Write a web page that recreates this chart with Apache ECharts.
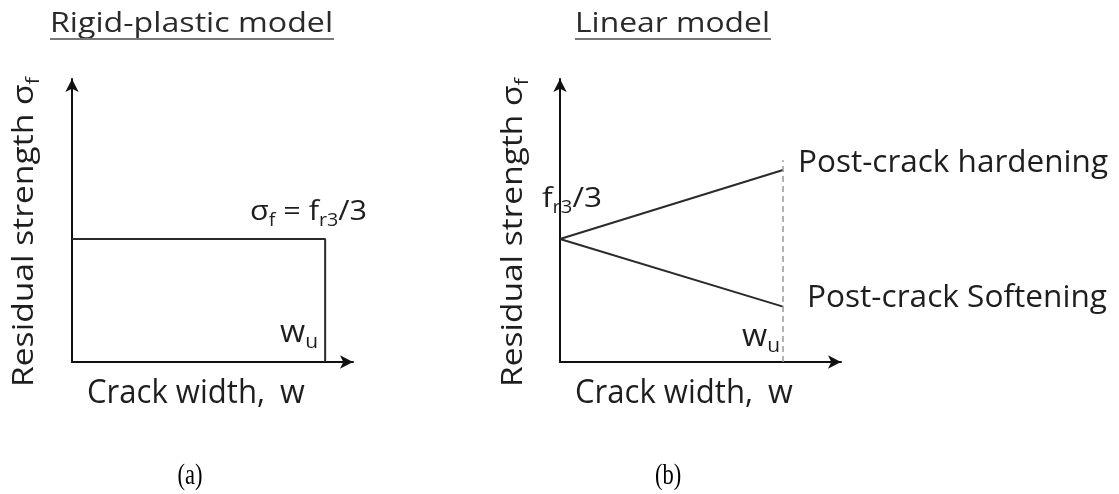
<!DOCTYPE html>
<html>
<head>
<meta charset="utf-8">
<script src="https://cdn.jsdelivr.net/npm/echarts@6/dist/echarts.min.js"></script>
<style>
  html, body { margin: 0; padding: 0; background: #fff; }
  #chart { width: 1119px; height: 494px; }
</style>
</head>
<body>
<div id="chart"></div>
<script>
// Crack width w, normalised by the ultimate crack width w_u
const wu = 1;
// Residual strength, normalised by f_r3/3
const fr3Third = 1;

// (a) Rigid-plastic model: constant stress up to w_u, then drop to zero
const rigidW = [0, wu, wu];
const rigidS = [fr3Third, fr3Third, 0];

// (b) Linear model: linear branch from f_r3/3 at w = 0 to w = w_u
const linearW = [0, wu];
const hardeningS = [fr3Third, 1.56];
const softeningS = [fr3Third, 0.45];

// Dashed limit at w = w_u
const limitW = [wu, wu];
const limitS = [0, 1.64];

// Panel texts
const panelTitles = ['Rigid-plastic model', 'Linear model'];
const panelTags = ['(a)', '(b)'];
const branchNames = ['Post-crack hardening', 'Post-crack Softening'];

const pair = (xs, ys) => xs.map((x, i) => [x, ys[i]]);

const INK = '#1e1e1e';
const SANS = '"Open Sans", Lato, sans-serif';
const SERIF = '"Liberation Serif", "DejaVu Serif", serif';

// ---- text runs with subscripts, optionally fitted to a given length ----
const measureCtx = document.createElement('canvas').getContext('2d');
function textWidth(t, size, family) {
  measureCtx.font = size + 'px ' + (family || SANS);
  return measureCtx.measureText(t).width;
}
const MID = 0.285; // canvas 'middle' line sits this many em above the baseline

function runText(runs, o) {
  const subSize = Math.round(o.size * (o.subRatio || 0.66));
  const drop = o.drop != null ? o.drop : o.size * 0.2;
  const items = runs.map(r => {
    const s = r.sub ? subSize : o.size;
    return { t: r.t, s: s, sub: !!r.sub, w: textWidth(r.t, s) };
  });
  const total = items.reduce((a, b) => a + b.w, 0);
  const k = o.width ? o.width / total : 1;
  let off = 0;
  return items.map(it => {
    const shift = (it.sub ? drop : 0) - MID * it.s;
    const el = {
      type: 'text', silent: true, scaleX: k,
      style: {
        text: it.t, fontSize: it.s, fontFamily: SANS,
        fill: o.color || INK, align: 'left', verticalAlign: 'middle'
      }
    };
    if (o.vertical) {
      el.rotation = Math.PI / 2;
      el.x = o.x + shift;
      el.y = o.y - off * k;
    } else {
      el.x = o.x + off * k;
      el.y = o.y + shift;
    }
    off += it.w;
    return el;
  });
}
const T = (t) => ({ t: t });
const S = (t) => ({ t: t, sub: true });

const axisBase = {
  type: 'value',
  min: 0,
  axisTick: { show: false },
  axisLabel: { show: false },
  splitLine: { show: false },
  axisLine: {
    show: true,
    onZero: false,
    symbol: ['none', 'arrow'],
    symbolSize: [10, 13],
    lineStyle: { color: '#111', width: 2 }
  }
};

const lineStyleSolid = { color: '#2a2a2a', width: 2 };

const graphics = [].concat(
  // panel titles with underline
  runText([T(panelTitles[0])], { x: 50, y: 32, size: 27, width: 283, color: '#2a2a2a' }),
  [{ type: 'rect', silent: true, shape: { x: 50, y: 38, width: 284, height: 2 }, style: { fill: '#777' } }],
  runText([T(panelTitles[1])], { x: 575, y: 32, size: 27, width: 195, color: '#2a2a2a' }),
  [{ type: 'rect', silent: true, shape: { x: 575, y: 38, width: 196, height: 2 }, style: { fill: '#777' } }],

  // vertical axis names
  runText([T('Residual strength σ'), S('f')], { x: 33, y: 387, size: 29, width: 310, vertical: true }),
  runText([T('Residual strength σ'), S('f')], { x: 522, y: 387, size: 29, width: 309, vertical: true }),

  // horizontal axis names
  runText([T('Crack width,')], { x: 87, y: 403, size: 32, width: 178 }),
  runText([T('w')], { x: 280, y: 403, size: 32 }),
  runText([T('Crack width,')], { x: 575, y: 403, size: 32, width: 178 }),
  runText([T('w')], { x: 768, y: 403, size: 32 }),

  // (a) annotations
  runText([T('σ'), S('f'), T(' = f'), S('r3'), T('/3')], { x: 250, y: 220, size: 28, width: 117 }),
  runText([T('w'), S('u')], { x: 280, y: 342, size: 31, width: 38 }),

  // (b) annotations
  runText([T('f'), S('r3'), T('/3')], { x: 542, y: 207, size: 28, width: 60 }),
  runText([T('w'), S('u')], { x: 742, y: 346, size: 31, width: 38 }),
  runText([T(branchNames[0])], { x: 798, y: 172, size: 31, width: 310 }),
  runText([T(branchNames[1])], { x: 807, y: 307, size: 31, width: 300 }),

  // panel tags
  [
    { type: 'text', silent: true, x: 190, y: 476, scaleX: 0.75,
      style: { text: panelTags[0], fontSize: 30, fontFamily: SERIF, fill: '#000', align: 'center', verticalAlign: 'middle' } },
    { type: 'text', silent: true, x: 668, y: 476, scaleX: 0.75,
      style: { text: panelTags[1], fontSize: 30, fontFamily: SERIF, fill: '#000', align: 'center', verticalAlign: 'middle' } }
  ]
);

const chart = echarts.init(document.getElementById('chart'), null, { renderer: 'canvas' });

chart.setOption({
  animation: false,
  backgroundColor: '#ffffff',
  grid: [
    { left: 72, top: 79, width: 281, height: 283 },
    { left: 560, top: 79, width: 281, height: 283 }
  ],
  xAxis: [
    Object.assign({}, axisBase, { gridIndex: 0, max: 1.11 }),
    Object.assign({}, axisBase, { gridIndex: 1, max: 1.26 })
  ],
  yAxis: [
    Object.assign({}, axisBase, { gridIndex: 0, max: 2.3 }),
    Object.assign({}, axisBase, { gridIndex: 1, max: 2.3 })
  ],
  series: [
    {
      type: 'line', xAxisIndex: 0, yAxisIndex: 0, silent: true,
      data: pair(rigidW, rigidS), symbol: 'none', lineStyle: lineStyleSolid
    },
    {
      type: 'line', xAxisIndex: 1, yAxisIndex: 1, silent: true,
      data: pair(linearW, hardeningS), symbol: 'none', lineStyle: lineStyleSolid
    },
    {
      type: 'line', xAxisIndex: 1, yAxisIndex: 1, silent: true,
      data: pair(linearW, softeningS), symbol: 'none', lineStyle: lineStyleSolid
    },
    {
      type: 'line', xAxisIndex: 1, yAxisIndex: 1, silent: true,
      data: pair(limitW, limitS), symbol: 'none',
      lineStyle: { color: '#9a9a9a', width: 1.5, type: [6, 4] }
    }
  ],
  graphic: graphics
});
</script>
</body>
</html>
